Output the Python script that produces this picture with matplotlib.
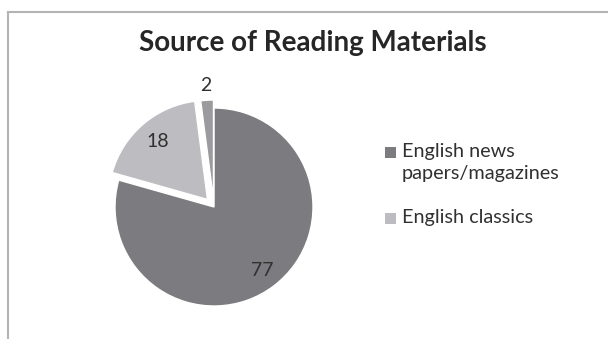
import matplotlib
matplotlib.use("Agg")
import matplotlib.pyplot as plt
import matplotlib.patches as mpatches
import numpy as np

plt.rcParams['font.family'] = ['Lato', 'DejaVu Sans']

title = "Source of Reading Materials"
values = [77, 18, 2]
names = ["English news\npapers/magazines", "English classics", ""]
cols = ["#7c7c80", "#bdbdc1", "#9b9b9f"]
expl = [0, 10, 8]  # pie explode is in data units (pixels here)

fig = plt.figure(figsize=(6.08, 3.39), dpi=100)
ax = fig.add_axes([0, 0, 1, 1])

# chart border (top and left visible)
ax.plot([8, 8], [0, 327], c="#b4b4b4", lw=1.5)
ax.plot([8, 608], [327, 327], c="#b4b4b4", lw=1.5)

wedges, _ = ax.pie(values, colors=cols, explode=expl, startangle=90,
                   counterclock=False, center=(214, 132), radius=99,
                   wedgeprops=dict(edgecolor="white", linewidth=1.0),
                   frame=True)
ax.set_xlim(0, 608)
ax.set_ylim(0, 339)
ax.set_aspect("equal")
ax.axis("off")

# data labels
dist = [0.8, 0.77, 1.15]
for w, v, d in zip(wedges, values, dist):
    mid = np.radians((w.theta1 + w.theta2) / 2)
    cx, cy = w.center
    ax.text(cx + d * w.r * np.cos(mid), cy + d * w.r * np.sin(mid), str(v),
            ha="center", va="center", fontsize=14, color="#303030")

fig.text(0.515, 1 - 43 / 339, title, ha="center", va="center",
         fontsize=20, fontweight="bold", color="#262626")

# legend
ly = [152, 218]
for i, y in enumerate(ly):
    ax.add_patch(mpatches.Rectangle((385, 339 - y - 6), 11, 11,
                                    facecolor=cols[i], edgecolor="none"))
    ax.text(402, 339 - y + (9 if "\n" in names[i] else 0), names[i], ha="left",
            va="top" if "\n" in names[i] else "center",
            fontsize=14.3, color="#303030", linespacing=1.35)

fig.savefig("out.png", dpi=100)
